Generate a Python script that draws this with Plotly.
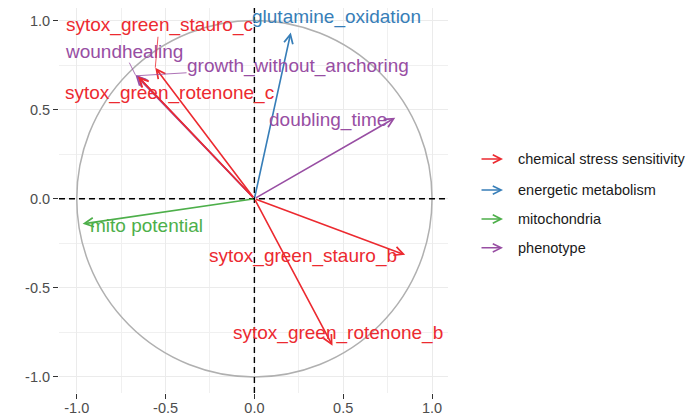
import plotly.graph_objects as go

# ---- data ----
variables = ["woundhealing", "growth_without_anchoring", "doubling_time",
             "glutamine_oxidation", "mito potential",
             "sytox_green_stauro_c", "sytox_green_rotenone_c",
             "sytox_green_stauro_b", "sytox_green_rotenone_b"]
groups = ["phenotype", "phenotype", "phenotype",
          "energetic metabolism", "mitochondria",
          "chemical stress sensitivity", "chemical stress sensitivity",
          "chemical stress sensitivity", "chemical stress sensitivity"]
pc1 = [-0.670, -0.660, 0.793, 0.205, -0.967, -0.558, -0.655, 0.849, 0.440]
pc2 = [0.695, 0.690, 0.454, 0.932, -0.141, 0.735, 0.685, -0.315, -0.825]
label_x = [-0.735, 0.246, 0.412, 0.460, -0.605, -0.537, -0.480, 0.274, 0.470]
label_y = [0.825, 0.744, 0.440, 1.020, -0.152, 0.973, 0.594, -0.324, -0.755]
has_segment = [True, True, False, False, False, True, False, False, False]

legend_groups = ["chemical stress sensitivity", "energetic metabolism",
                 "mitochondria", "phenotype"]
group_colors = {"chemical stress sensitivity": "#EC2A30",
                "energetic metabolism": "#377EB8",
                "mitochondria": "#4DAF4A",
                "phenotype": "#984EA3"}

major_ticks = [-1.0, -0.5, 0.0, 0.5, 1.0]
major_labels = ["-1.0", "-0.5", "0.0", "0.5", "1.0"]
minor_ticks = [-0.75, -0.25, 0.25, 0.75]

FONT = "Liberation Sans, Arial, Helvetica, sans-serif"

fig = go.Figure()
# invisible trace to set up axes
fig.add_trace(go.Scatter(x=pc1, y=pc2, mode="markers",
                         marker=dict(size=1, opacity=0), hoverinfo="skip",
                         showlegend=False))

# unit circle
fig.add_shape(type="circle", xref="x", yref="y", x0=-1, y0=-1, x1=1, y1=1,
              line=dict(color="#B0B0B0", width=1.5), layer="above")
# dashed axes lines
fig.add_hline(y=0, line=dict(color="black", width=1.4, dash="6px,4px"))
fig.add_vline(x=0, line=dict(color="black", width=1.4, dash="6px,4px"))

annotations = []
# arrows
for v, g, x, y in zip(variables, groups, pc1, pc2):
    annotations.append(dict(
        x=x, y=y, ax=0, ay=0, xref="x", yref="y", axref="x", ayref="y",
        text="", showarrow=True, arrowhead=5, arrowsize=1.1,
        arrowwidth=1.6, arrowcolor=group_colors[g], standoff=0))
# labels
for v, g, x, y, lx, ly, seg in zip(variables, groups, pc1, pc2,
                                   label_x, label_y, has_segment):
    if seg:
        annotations.append(dict(
            x=x, y=y, ax=lx, ay=ly, xref="x", yref="y", axref="x", ayref="y",
            text=v, showarrow=True, arrowhead=0, arrowwidth=0.8,
            arrowcolor=group_colors[g], standoff=0, borderpad=0,
            font=dict(family=FONT, size=19, color=group_colors[g])))
    else:
        annotations.append(dict(
            x=lx, y=ly, xref="x", yref="y", text=v, showarrow=False,
            font=dict(family=FONT, size=19, color=group_colors[g])))

# manual legend
legend_y = [0.6078, 0.527, 0.452, 0.377]
for g, ly in zip(legend_groups, legend_y):
    annotations.append(dict(
        x=1.1414, y=ly, xref="paper", yref="paper", ax=-23, ay=0,
        text="", showarrow=True, arrowhead=5, arrowsize=1.1, arrowwidth=1.5,
        arrowcolor=group_colors[g], standoff=0))
    annotations.append(dict(
        x=1.1748, y=ly, xref="paper", yref="paper", text=g, showarrow=False,
        xanchor="left", yanchor="middle",
        font=dict(family=FONT, size=14.5, color="#1A1A1A")))

fig.update_layout(annotations=annotations)

axis_common = dict(
    tickvals=major_ticks, ticktext=major_labels,
    ticks="outside", ticklen=5, tickwidth=1.1, tickcolor="#333333",
    showgrid=True, gridcolor="#EBEBEB", gridwidth=1.1,
    minor=dict(tickvals=minor_ticks, showgrid=True, gridcolor="#F0F0F0",
               gridwidth=0.6, ticks=""),
    zeroline=False, showline=False, automargin=False,
    tickfont=dict(family=FONT, size=14.5, color="#4D4D4D"),
)
fig.update_xaxes(range=[-1.10, 1.09], ticklabelstandoff=-3, **axis_common)
fig.update_yaxes(range=[-1.09, 1.07], **axis_common)

fig.update_layout(
    width=699, height=416,
    margin=dict(l=59, r=251, t=8, b=23, autoexpand=False),
    paper_bgcolor="white", plot_bgcolor="white",
    showlegend=False,
)

fig.write_html("out.html",
               config={"displayModeBar": False},
               post_script="document.body.style.margin='0';"
                           "document.body.style.padding='0';")
